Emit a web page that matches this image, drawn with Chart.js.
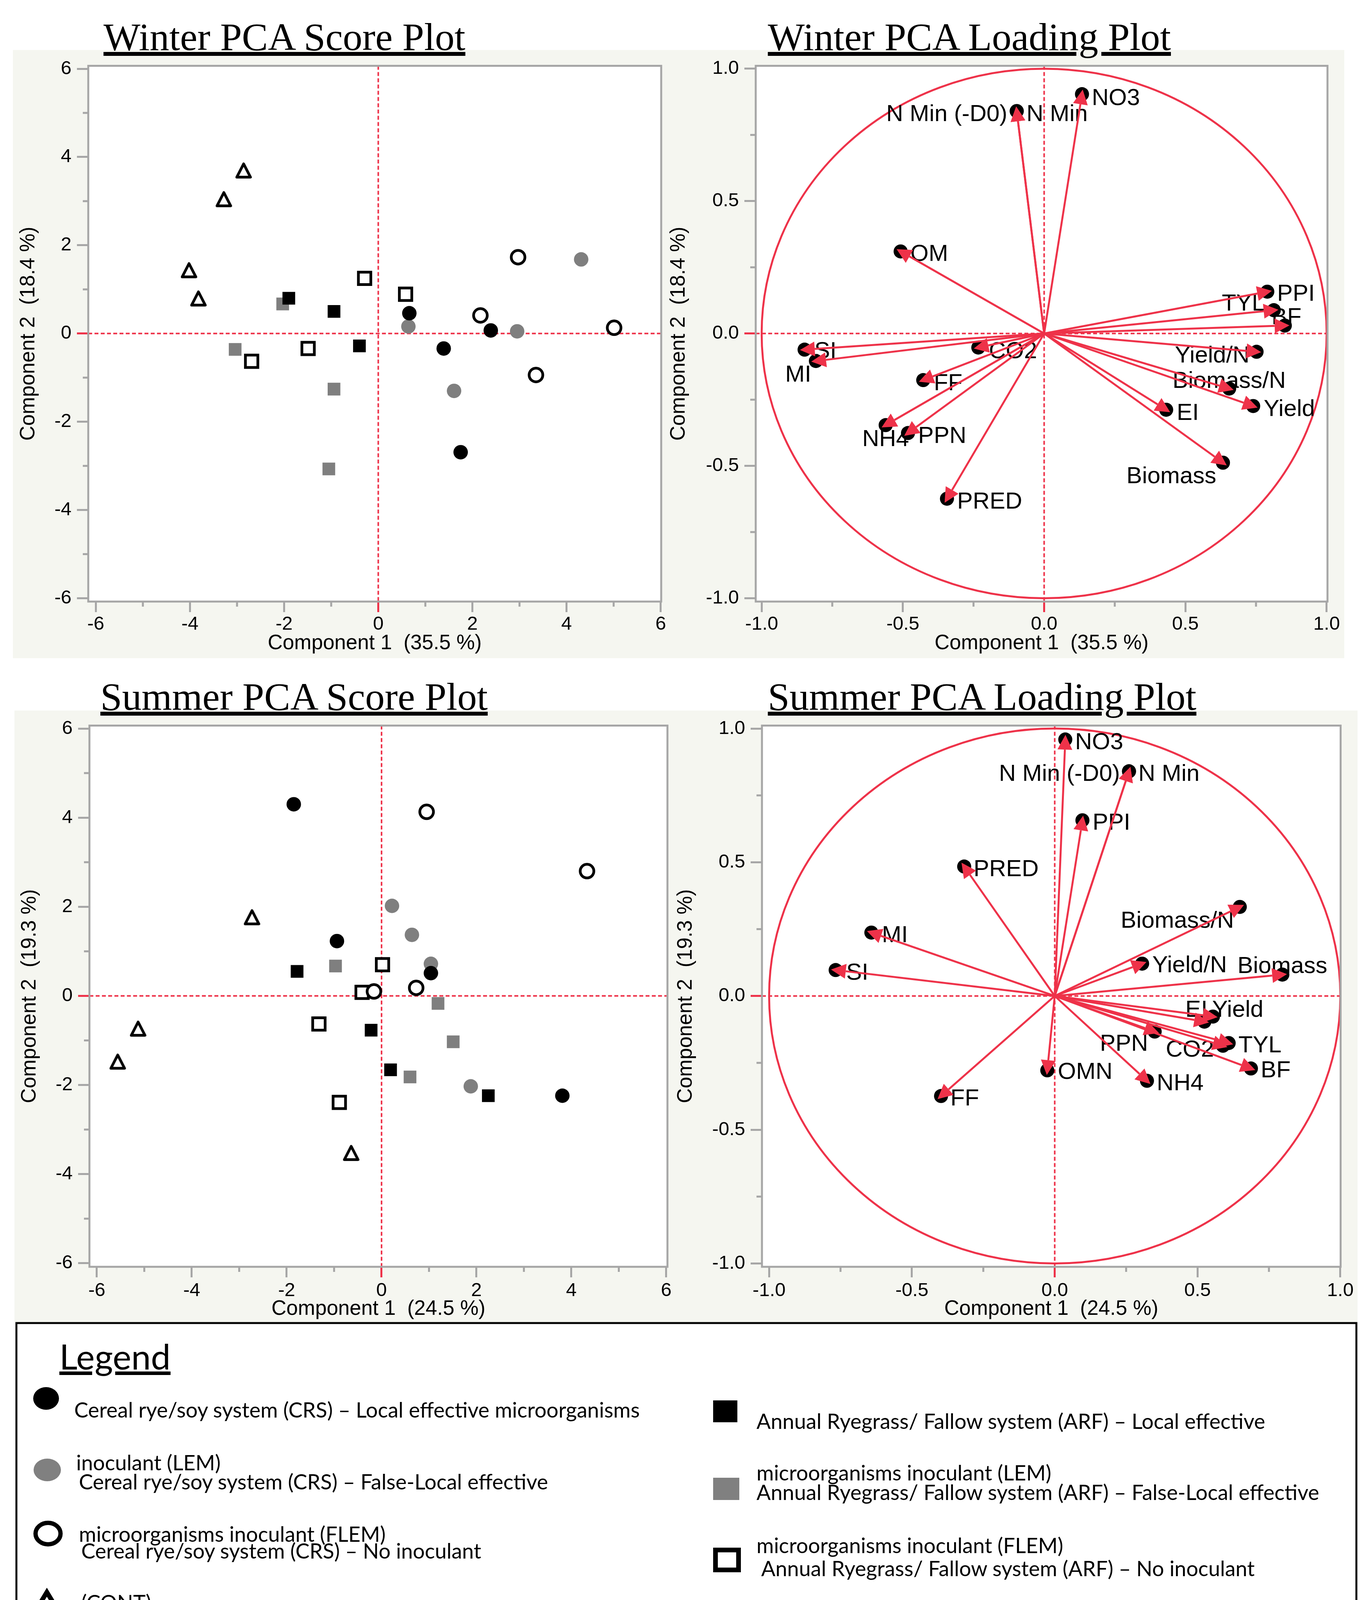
<!DOCTYPE html>
<html>
<head>
<meta charset="utf-8">
<title>Winter and Summer PCA Plots</title>
<script src="https://cdn.jsdelivr.net/npm/chart.js"></script>
<style>
  html, body { margin: 0; padding: 0; background: #fff; }
  body { width: 3513px; height: 4261px; position: relative; overflow: hidden; }
  #page { position: absolute; left: 0; top: 0; }
  .plot { position: absolute; }
</style>
</head>
<body>
<svg id="page" width="3513" height="4261" xmlns="http://www.w3.org/2000/svg">
  <rect x="33" y="128" width="3409" height="1557" fill="#f5f6f0"/>
  <rect x="37" y="1819" width="3439" height="1566" fill="#f5f6f0"/>
  <g font-family="Liberation Serif" font-size="100" fill="#000" text-decoration="underline">
    <text x="265" y="128">Winter PCA Score Plot</text>
    <text x="1966" y="128">Winter PCA Loading Plot</text>
    <text x="257" y="1817">Summer PCA Score Plot</text>
    <text x="1966" y="1817">Summer PCA Loading Plot</text>
  </g>
  <rect x="42" y="3387" width="3431" height="833" fill="#fff" stroke="#000" stroke-width="5"/>
  <text x="152" y="3506" font-family="Lato" font-size="90" text-decoration="underline">Legend</text>
  <ellipse cx="118" cy="3580" rx="33" ry="29" fill="#000"/>
  <ellipse cx="121" cy="3763" rx="35" ry="29" fill="#808080"/>
  <ellipse cx="123" cy="3926" rx="32" ry="27.5" fill="#fff" stroke="#000" stroke-width="11"/>
  <polygon points="120,4076 85,4134 155,4134" fill="#fff" stroke="#000" stroke-width="12"/>
  <rect x="1826" y="3585" width="62" height="56" fill="#000"/>
  <rect x="1826" y="3783" width="67" height="57" fill="#808080"/>
  <rect x="1832" y="3968" width="59" height="51" fill="#fff" stroke="#000" stroke-width="12"/>
  <g font-family="Lato" font-size="54" fill="#000">
    <text x="190" y="3629">Cereal rye/soy system (CRS) – Local effective microorganisms</text>
    <text x="195" y="3764">inoculant (LEM)</text>
    <text x="202" y="3813">Cereal rye/soy system (CRS) – False-Local effective</text>
    <text x="202" y="3947">microorganisms inoculant (FLEM)</text>
    <text x="208" y="3990">Cereal rye/soy system (CRS) – No inoculant</text>
    <text x="208" y="4122">(CONT)</text>
    <text x="208" y="4170">Bare Control (BC) – No inoculant (CONT)</text>
    <text x="1937" y="3658">Annual Ryegrass/ Fallow system (ARF) – Local effective</text>
    <text x="1937" y="3790">microorganisms inoculant (LEM)</text>
    <text x="1937" y="3840">Annual Ryegrass/ Fallow system (ARF) – False-Local effective</text>
    <text x="1937" y="3976">microorganisms inoculant (FLEM)</text>
    <text x="1949" y="4035">Annual Ryegrass/ Fallow system (ARF) – No inoculant</text>
    <text x="1949" y="4170">(CONT)</text>
  </g>
</svg>

<div class="plot" style="left:33px;top:130px;width:1700px;height:1555px"><canvas id="winterScore"></canvas></div>
<div class="plot" style="left:1700px;top:130px;width:1742px;height:1555px"><canvas id="winterLoading"></canvas></div>
<div class="plot" style="left:37px;top:1819px;width:1703px;height:1566px"><canvas id="summerScore"></canvas></div>
<div class="plot" style="left:1700px;top:1819px;width:1776px;height:1566px"><canvas id="summerLoading"></canvas></div>

<script>
// ---- winter scores [component 1, component 2] ----
const winterCrsLem  = [[0.66, 0.46], [2.39, 0.07], [1.39, -0.34], [1.75, -2.69]];
const winterCrsFlem = [[4.31, 1.68], [0.64, 0.16], [2.95, 0.05], [1.61, -1.30]];
const winterCrsCont = [[2.97, 1.73], [2.17, 0.41], [5.01, 0.13], [3.35, -0.94]];
const winterArfLem  = [[-1.90, 0.80], [-0.94, 0.50], [-0.40, -0.28]];
const winterArfFlem = [[-2.03, 0.67], [-3.04, -0.36], [-0.94, -1.26], [-1.05, -3.07]];
const winterArfCont = [[-0.29, 1.25], [0.58, 0.89], [-1.49, -0.34], [-2.69, -0.63]];
const winterBc      = [[-2.86, 3.69], [-3.28, 3.04], [-4.02, 1.43], [-3.82, 0.79]];

// ---- summer scores ----
const summerCrsLem  = [[-1.85, 4.30], [-0.94, 1.23], [1.04, 0.51], [3.81, -2.24]];
const summerCrsFlem = [[0.22, 2.02], [0.64, 1.37], [1.04, 0.72], [1.88, -2.03]];
const summerCrsCont = [[0.95, 4.13], [4.33, 2.80], [0.73, 0.18], [-0.16, 0.10]];
const summerArfLem  = [[-1.78, 0.55], [-0.22, -0.77], [0.19, -1.66], [2.25, -2.24]];
const summerArfFlem = [[-0.97, 0.67], [1.19, -0.17], [1.51, -1.03], [0.60, -1.82]];
const summerArfCont = [[0.02, 0.70], [-0.41, 0.08], [-1.32, -0.63], [-0.89, -2.39]];
const summerBc      = [[-2.73, 1.76], [-5.13, -0.74], [-5.56, -1.48], [-0.64, -3.53]];

// ---- loadings ----
const winterVars = ['NO3', 'N Min (-D0)', 'N Min', 'OM', 'PPI', 'TYL', 'BF', 'Yield/N', 'Biomass/N',
                    'Yield', 'EI', 'Biomass', 'SI', 'MI', 'CO2', 'FF', 'NH4', 'PPN', 'PRED'];
const winterPC1 = [0.134, -0.097, -0.097, -0.508, 0.790, 0.813, 0.852, 0.752, 0.655,
                   0.740, 0.432, 0.633, -0.848, -0.808, -0.233, -0.428, -0.561, -0.482, -0.344];
const winterPC2 = [0.904, 0.840, 0.840, 0.310, 0.158, 0.088, 0.030, -0.069, -0.208,
                   -0.274, -0.288, -0.488, -0.061, -0.104, -0.053, -0.176, -0.346, -0.376, -0.624];

const summerVars = ['NO3', 'N Min (-D0)', 'N Min', 'PPI', 'PRED', 'Biomass/N', 'MI', 'SI', 'Yield/N',
                    'Biomass', 'EI', 'Yield', 'PPN', 'CO2', 'TYL', 'BF', 'OMN', 'NH4', 'FF'];
const summerPC1 = [0.037, 0.260, 0.260, 0.097, -0.317, 0.648, -0.642, -0.767, 0.306,
                   0.797, 0.524, 0.554, 0.350, 0.589, 0.609, 0.687, -0.026, 0.323, -0.398];
const summerPC2 = [0.959, 0.840, 0.840, 0.657, 0.484, 0.333, 0.237, 0.097, 0.121,
                   0.080, -0.096, -0.077, -0.133, -0.186, -0.176, -0.271, -0.278, -0.317, -0.374];

const scoreTicks = [-6, -4, -2, 0, 2, 4, 6];
const scoreMinor = [-5, -3, -1, 1, 3, 5];
const loadTicks = [-1, -0.5, 0, 0.5, 1];
const loadMinor = [-0.75, -0.25, 0.25, 0.75];

// label placement next to each loading dot: [dx, dy, align]
const winterLabelPos = {
  'NO3': [25, 11, 'left'], 'N Min (-D0)': [-24, 9, 'right'], 'N Min': [25, 9, 'left'],
  'OM': [25, 8, 'left'], 'PPI': [25, 7, 'left'], 'TYL': [-23, -16, 'right'], 'BF': [-34, -20, 'left'],
  'Yield/N': [-18, 11, 'right'], 'Biomass/N': [0, -18, 'center'], 'Yield': [27, 9, 'left'],
  'EI': [27, 10, 'left'], 'Biomass': [-17, 36, 'right'], 'SI': [25, 5, 'left'], 'MI': [-12, 36, 'right'],
  'CO2': [27, 11, 'left'], 'FF': [27, 9, 'left'], 'NH4': [0, 37, 'center'], 'PPN': [26, 9, 'left'],
  'PRED': [26, 9, 'left']
};
const summerLabelPos = {
  'NO3': [25, 8, 'left'], 'N Min (-D0)': [-23, 8, 'right'], 'N Min': [24, 8, 'left'],
  'PPI': [26, 8, 'left'], 'PRED': [24, 8, 'left'], 'Biomass/N': [-15, 37, 'right'],
  'MI': [27, 8, 'left'], 'SI': [27, 8, 'left'], 'Yield/N': [26, 6, 'left'], 'Biomass': [0, -21, 'center'],
  'EI': [8, -29, 'right'], 'Yield': [-2, -16, 'left'], 'PPN': [-17, 33, 'right'], 'CO2': [-23, 11, 'right'],
  'TYL': [25, 7, 'left'], 'BF': [25, 6, 'left'], 'OMN': [27, 5, 'left'], 'NH4': [25, 8, 'left'],
  'FF': [24, 8, 'left']
};

const RED = '#ee3249';
const AXIS_GRAY = '#a6a6a6';
const MID_GRAY = '#7f7f7f';
const SANS = 'Liberation Sans';

function pairs(arr) { return arr.map(p => ({ x: p[0], y: p[1] })); }

function triangleMarker() {
  const c = document.createElement('canvas');
  c.width = 48; c.height = 48;
  const g = c.getContext('2d');
  g.lineWidth = 7; g.lineJoin = 'round'; g.strokeStyle = '#000'; g.fillStyle = '#fff';
  g.beginPath(); g.moveTo(24, 6.5); g.lineTo(41.5, 40.5); g.lineTo(6.5, 40.5); g.closePath();
  g.fill(); g.stroke();
  return c;
}
const TRI = triangleMarker();

// white plot area, minor ticks, dashed zero lines, unit circle, frame, labels
const pcaFrame = {
  id: 'pcaFrame',
  beforeDraw(chart) {
    const { ctx, chartArea: a } = chart;
    ctx.save();
    ctx.fillStyle = '#fff';
    ctx.fillRect(a.left, a.top, a.right - a.left, a.bottom - a.top);
    ctx.restore();
  },
  beforeDatasetsDraw(chart, args, opts) {
    const { ctx, chartArea: a, scales: { x, y } } = chart;
    ctx.save();
    ctx.strokeStyle = AXIS_GRAY;
    ctx.lineWidth = 5;
    opts.minor.forEach(v => {
      const px = x.getPixelForValue(v);
      ctx.beginPath(); ctx.moveTo(px, a.bottom); ctx.lineTo(px, a.bottom + 13); ctx.stroke();
      const py = y.getPixelForValue(v);
      ctx.beginPath(); ctx.moveTo(a.left, py); ctx.lineTo(a.left - 14, py); ctx.stroke();
    });
    const x0 = x.getPixelForValue(0), y0 = y.getPixelForValue(0);
    if (opts.unitCircle) {
      ctx.strokeStyle = RED;
      ctx.lineWidth = 5;
      ctx.beginPath();
      ctx.ellipse(x0, y0, x.getPixelForValue(1) - x0, y0 - y.getPixelForValue(1), 0, 0, Math.PI * 2);
      ctx.stroke();
    }
    ctx.strokeStyle = RED;
    ctx.lineWidth = 4;
    ctx.setLineDash([10, 6]);
    ctx.beginPath(); ctx.moveTo(x0, a.top); ctx.lineTo(x0, a.bottom); ctx.stroke();
    ctx.beginPath(); ctx.moveTo(a.left, y0); ctx.lineTo(a.right, y0); ctx.stroke();
    ctx.setLineDash([]);
    ctx.strokeStyle = AXIS_GRAY;
    ctx.lineWidth = 5;
    ctx.strokeRect(a.left, a.top, a.right - a.left, a.bottom - a.top);

    if (opts.labels) {
      const pts = chart.data.datasets[0].data;
      ctx.fillStyle = '#000';
      ctx.font = '60px "' + SANS + '"';
      ctx.textBaseline = 'middle';
      pts.forEach(p => {
        const pos = opts.labels[p.name];
        ctx.textAlign = pos[2];
        ctx.fillText(p.name, x.getPixelForValue(p.x) + pos[0], y.getPixelForValue(p.y) + pos[1]);
      });
    }
    ctx.restore();
  }
};

// arrows from the origin to every loading
const loadingArrows = {
  id: 'loadingArrows',
  afterDatasetsDraw(chart) {
    const { ctx, scales: { x, y } } = chart;
    const ox = x.getPixelForValue(0), oy = y.getPixelForValue(0);
    ctx.save();
    ctx.strokeStyle = RED; ctx.fillStyle = RED; ctx.lineWidth = 5;
    chart.data.datasets[0].data.forEach(p => {
      const px = x.getPixelForValue(p.x), py = y.getPixelForValue(p.y);
      const len = Math.hypot(px - ox, py - oy);
      const ux = (px - ox) / len, uy = (py - oy) / len;
      const tx = px + ux * 12, ty = py + uy * 12;
      const bx = tx - ux * 38, by = ty - uy * 38;
      ctx.beginPath(); ctx.moveTo(ox, oy); ctx.lineTo(bx, by); ctx.stroke();
      ctx.beginPath();
      ctx.moveTo(tx, ty);
      ctx.lineTo(bx - uy * 19, by + ux * 19);
      ctx.lineTo(bx + uy * 19, by - ux * 19);
      ctx.closePath();
      ctx.fill();
    });
    ctx.restore();
  }
};

function axes(c) {
  const tickColor = ctx => (ctx.tick && ctx.tick.value === 0 ? RED : AXIS_GRAY);
  return {
    x: {
      type: 'linear', position: 'bottom', min: c.xMin, max: c.xMax,
      afterBuildTicks: ax => { ax.ticks = c.ticks.map(v => ({ value: v })); },
      afterFit: s => { s.height = c.xHeight; },
      ticks: { color: '#000', font: { family: SANS, size: 49, lineHeight: 1 }, padding: c.xTickPad,
               maxRotation: 0, autoSkip: false, callback: c.fmt },
      grid: { drawOnChartArea: false, drawTicks: true, tickLength: 27, lineWidth: 5, color: tickColor },
      border: { display: false },
      title: { display: true, text: c.xTitle, color: '#000', font: { family: SANS, size: 53, lineHeight: 1 },
               padding: { top: 0, bottom: c.xTitlePad } }
    },
    y: {
      type: 'linear', position: 'left', min: c.yMin, max: c.yMax,
      afterBuildTicks: ax => { ax.ticks = c.ticks.map(v => ({ value: v })); },
      afterFit: s => { s.width = c.yWidth; },
      ticks: { color: '#000', font: { family: SANS, size: 49, lineHeight: 1 }, padding: 14,
               autoSkip: false, callback: c.fmt },
      grid: { drawOnChartArea: false, drawTicks: true, tickLength: 29, lineWidth: 5, color: tickColor },
      border: { display: false },
      title: { display: true, text: c.yTitle, color: '#000', font: { family: SANS, size: 53, lineHeight: 1 },
               padding: { top: c.yTitlePad, bottom: 0 } }
    }
  };
}

function scoreSets(g) {
  return [
    { label: 'CRS LEM', data: pairs(g[0]), pointStyle: 'circle', pointRadius: 18.5,
      pointBackgroundColor: '#000', pointBorderWidth: 0 },
    { label: 'CRS FLEM', data: pairs(g[1]), pointStyle: 'circle', pointRadius: 18.5,
      pointBackgroundColor: MID_GRAY, pointBorderWidth: 0 },
    { label: 'CRS CONT', data: pairs(g[2]), pointStyle: 'circle', pointRadius: 17.5,
      pointBackgroundColor: '#fff', pointBorderColor: '#000', pointBorderWidth: 7 },
    { label: 'ARF LEM', data: pairs(g[3]), pointStyle: 'rect', pointRadius: 23,
      pointBackgroundColor: '#000', pointBorderWidth: 0 },
    { label: 'ARF FLEM', data: pairs(g[4]), pointStyle: 'rect', pointRadius: 23,
      pointBackgroundColor: MID_GRAY, pointBorderWidth: 0 },
    { label: 'ARF CONT', data: pairs(g[5]), pointStyle: 'rect', pointRadius: 22.5,
      pointBackgroundColor: '#fff', pointBorderColor: '#000', pointBorderWidth: 7 },
    { label: 'BC CONT', data: pairs(g[6]), pointStyle: TRI, pointRadius: 21 }
  ];
}

function loadingSet(names, pc1, pc2) {
  return [{
    label: 'Loadings',
    data: names.map((n, i) => ({ x: pc1[i], y: pc2[i], name: n })),
    pointStyle: 'circle', pointRadius: 18, pointBackgroundColor: '#000', pointBorderWidth: 0
  }];
}

function makeChart(id, datasets, scaleCfg, pad, frameOpts, extraPlugins) {
  return new Chart(document.getElementById(id), {
    type: 'scatter',
    data: { datasets },
    options: {
      responsive: true, maintainAspectRatio: false, devicePixelRatio: 1,
      animation: false, events: [],
      layout: { padding: { top: pad.top, right: pad.right, left: 0, bottom: 0 } },
      plugins: { legend: { display: false }, tooltip: { enabled: false }, pcaFrame: frameOpts },
      scales: axes(scaleCfg)
    },
    plugins: [pcaFrame].concat(extraPlugins || [])
  });
}

const intFmt = v => String(v);
const decFmt = v => Number(v).toFixed(1);

makeChart('winterScore',
  scoreSets([winterCrsLem, winterCrsFlem, winterCrsCont, winterArfLem, winterArfFlem, winterArfCont, winterBc]),
  { xMin: -6.16, xMax: 6.01, yMin: -6.075, yMax: 6.067, ticks: scoreTicks, fmt: intFmt,
    xHeight: 145, yWidth: 193, xTickPad: 7, xTitlePad: 11, yTitlePad: 14,
    xTitle: 'Component 1  (35.5 %)', yTitle: 'Component 2  (18.4 %)' },
  { top: 38, right: 40 }, { minor: scoreMinor, unitCircle: false });

makeChart('winterLoading', loadingSet(winterVars, winterPC1, winterPC2),
  { xMin: -1.021, xMax: 1.003, yMin: -1.0125, yMax: 1.011, ticks: loadTicks, fmt: decFmt,
    xHeight: 145, yWidth: 235, xTickPad: 7, xTitlePad: 11, yTitlePad: 12,
    xTitle: 'Component 1  (35.5 %)', yTitle: 'Component 2  (18.4 %)' },
  { top: 38, right: 43 }, { minor: loadMinor, unitCircle: true, labels: winterLabelPos }, [loadingArrows]);

makeChart('summerScore',
  scoreSets([summerCrsLem, summerCrsFlem, summerCrsCont, summerArfLem, summerArfFlem, summerArfCont, summerBc]),
  { xMin: -6.156, xMax: 6.025, yMin: -6.08, yMax: 6.066, ticks: scoreTicks, fmt: intFmt,
    xHeight: 142, yWidth: 192, xTickPad: 10, xTitlePad: 7, yTitlePad: 13,
    xTitle: 'Component 1  (24.5 %)', yTitle: 'Component 2  (19.3 %)' },
  { top: 38, right: 31 }, { minor: scoreMinor, unitCircle: false });

makeChart('summerLoading', loadingSet(summerVars, summerPC1, summerPC2),
  { xMin: -1.025, xMax: 1.001, yMin: -1.0125, yMax: 1.011, ticks: loadTicks, fmt: decFmt,
    xHeight: 142, yWidth: 251, xTickPad: 10, xTitlePad: 7, yTitlePad: 30,
    xTitle: 'Component 1  (24.5 %)', yTitle: 'Component 2  (19.3 %)' },
  { top: 38, right: 43 }, { minor: loadMinor, unitCircle: true, labels: summerLabelPos }, [loadingArrows]);
</script>
</body>
</html>
